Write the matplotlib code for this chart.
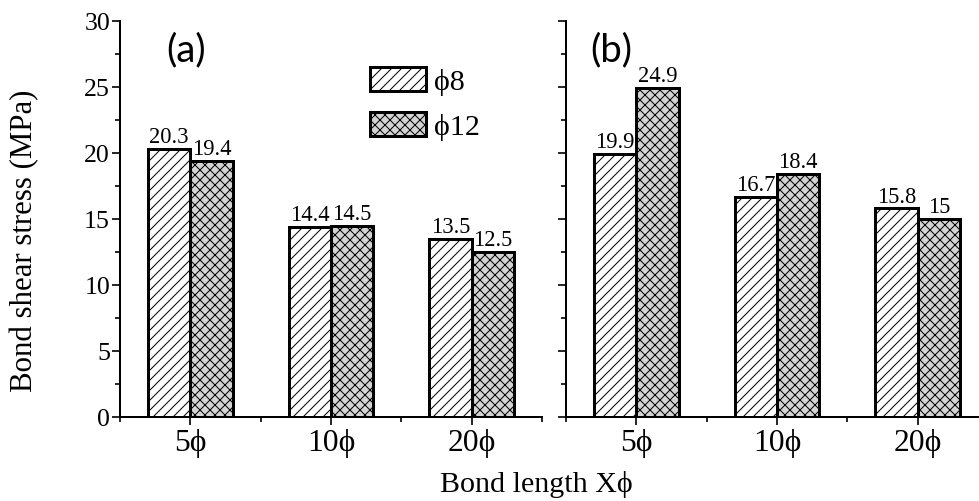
import numpy as np
import matplotlib.pyplot as plt
from matplotlib.ticker import MultipleLocator, FixedLocator

# bond length groups and measured bond shear stress (MPa)
groups = ["5ϕ", "10ϕ", "20ϕ"]
series = ["ϕ8", "ϕ12"]
stress_a_d8 = [20.3, 14.4, 13.5]
stress_a_d12 = [19.4, 14.5, 12.5]
stress_b_d8 = [19.9, 16.7, 15.8]
stress_b_d12 = [24.9, 18.4, 15.0]

DPI = 120
plt.rcParams["font.family"] = ["Liberation Serif", "DejaVu Serif"]
plt.rcParams["hatch.linewidth"] = 0.6

fig = plt.figure(figsize=(979 / DPI, 501 / DPI), dpi=DPI)
W, H = 979, 501
ax_a = fig.add_axes([120 / W, 84 / H, 422 / W, 396 / H])
ax_b = fig.add_axes([566 / W, 84 / H, 422 / W, 396 / H])

x = np.arange(len(groups)) + 0.5
bw = 0.3
edge = dict(edgecolor="black", linewidth=1.8)


def draw_panel(ax, d8, d12, tag, tag_x):
    b1 = ax.bar(x - bw / 2, d8, bw, color="white", hatch="////", label=series[0], **edge)
    b2 = ax.bar(x + bw / 2, d12, bw, color="#d3d3d3", hatch="xxxx", label=series[1], **edge)
    for b in (b1, b2):
        ax.bar_label(b, fmt="%g", padding=0.5, fontsize=13.5)

    ax.set_xlim(0, 3)
    ax.set_ylim(0, 30)
    ax.spines[["top", "right"]].set_visible(False)
    ax.spines[["left", "bottom"]].set_linewidth(1.2)

    ax.set_xticks(x)
    ax.set_xticklabels(groups, fontsize=19)
    ax.xaxis.set_minor_locator(FixedLocator([0, 1, 2, 3]))
    ax.yaxis.set_major_locator(MultipleLocator(5))
    ax.yaxis.set_minor_locator(MultipleLocator(2.5))
    ax.tick_params(which="major", direction="out", length=4.8, width=1.0)
    ax.tick_params(which="minor", direction="out", length=3, width=1.0)
    ax.tick_params(axis="x", which="major", pad=2.5)
    ax.tick_params(axis="y", which="major", pad=1.2, labelsize=15.5)

    ax.text(tag_x, 27.8, tag, fontsize=23, family="Lato", va="center", ha="left")
    return b1, b2


draw_panel(ax_a, stress_a_d8, stress_a_d12, "(a)", 0.33)
draw_panel(ax_b, stress_b_d8, stress_b_d12, "(b)", 0.17)
ax_b.set_yticklabels([])

ax_a.set_ylabel("Bond shear stress (MPa)", fontsize=18.5, va="center")
ax_a.yaxis.set_label_coords((25 - 120) / 422, 0.444)

ax_a.legend(
    loc="upper left",
    bbox_to_anchor=((370 - 120) / 422, (417 - 67) / 396),
    frameon=False,
    fontsize=18,
    handlelength=1.87,
    handleheight=0.87,
    handletextpad=0.25,
    labelspacing=0.55,
    borderpad=0,
    borderaxespad=0,
)

fig.text(536 / W, 1 - 485 / H, "Bond length Xϕ", fontsize=18, ha="center", va="center")

fig.savefig("out.png", dpi=DPI)
